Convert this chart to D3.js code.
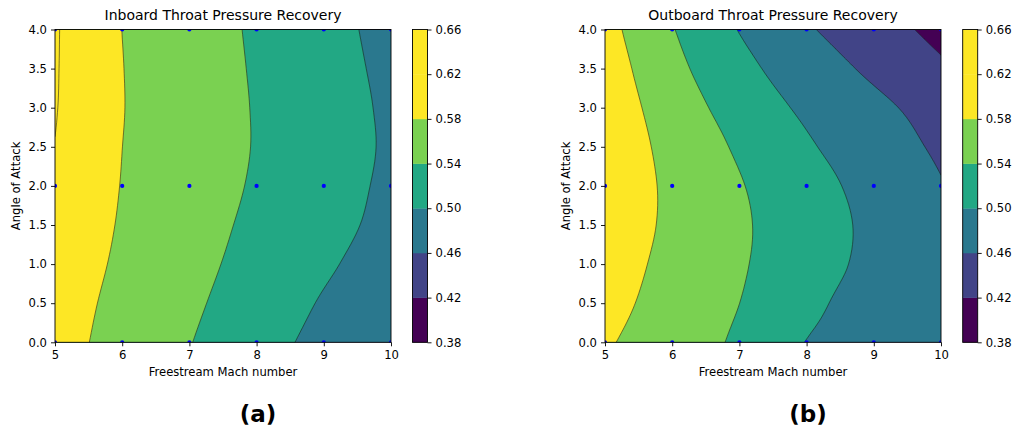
<!DOCTYPE html>
<html><head><meta charset="utf-8">
<script src="https://cdn.jsdelivr.net/npm/d3@7"></script>
<style>
body{margin:0;background:#fff}
svg{display:block}
text{font-family:"DejaVu Sans",sans-serif;fill:#000}
</style>
</head><body>
<svg id="c" width="1014" height="432"></svg>
<script>
// ---- data ----
const machValues = [5, 5.5, 6, 6.5, 7, 7.5, 8, 8.5, 9, 9.5, 10];
const aoaValues = [0, 0.5, 1, 1.5, 2, 2.5, 3, 3.5, 4];
// rows: angle of attack (0 -> 4), columns: Mach (5 -> 10)
const inboardRecovery = [
  [0.5950, 0.5803, 0.5673, 0.5543, 0.5413, 0.5282, 0.5150, 0.5018, 0.4895, 0.4772, 0.4650],
  [0.5980, 0.5835, 0.5707, 0.5585, 0.5463, 0.5340, 0.5216, 0.5092, 0.4968, 0.4844, 0.4720],
  [0.6020, 0.5875, 0.5744, 0.5627, 0.5510, 0.5393, 0.5280, 0.5167, 0.5054, 0.4938, 0.4820],
  [0.6070, 0.5915, 0.5771, 0.5658, 0.5546, 0.5434, 0.5326, 0.5220, 0.5114, 0.5009, 0.4890],
  [0.6130, 0.5956, 0.5789, 0.5682, 0.5575, 0.5468, 0.5362, 0.5255, 0.5149, 0.5042, 0.4930],
  [0.6190, 0.5995, 0.5801, 0.5695, 0.5591, 0.5486, 0.5381, 0.5274, 0.5168, 0.5062, 0.4950],
  [0.6217, 0.6014, 0.5812, 0.5699, 0.5593, 0.5486, 0.5378, 0.5270, 0.5161, 0.5052, 0.4940],
  [0.6225, 0.6017, 0.5808, 0.5695, 0.5586, 0.5476, 0.5366, 0.5254, 0.5142, 0.5029, 0.4920],
  [0.6230, 0.6013, 0.5798, 0.5687, 0.5576, 0.5464, 0.5351, 0.5236, 0.5120, 0.5005, 0.4890]
];
const outboardRecovery = [
  [0.5840, 0.5720, 0.5599, 0.5478, 0.5336, 0.5159, 0.4992, 0.4914, 0.4836, 0.4758, 0.4680],
  [0.5920, 0.5787, 0.5658, 0.5529, 0.5401, 0.5244, 0.5088, 0.4962, 0.4874, 0.4787, 0.4700],
  [0.5970, 0.5835, 0.5703, 0.5571, 0.5439, 0.5304, 0.5167, 0.5030, 0.4916, 0.4808, 0.4700],
  [0.6000, 0.5870, 0.5735, 0.5594, 0.5454, 0.5317, 0.5183, 0.5048, 0.4922, 0.4801, 0.4680],
  [0.6010, 0.5877, 0.5735, 0.5580, 0.5425, 0.5283, 0.5144, 0.5006, 0.4877, 0.4748, 0.4620],
  [0.6040, 0.5866, 0.5691, 0.5516, 0.5348, 0.5197, 0.5045, 0.4913, 0.4789, 0.4665, 0.4540],
  [0.6020, 0.5820, 0.5618, 0.5416, 0.5245, 0.5077, 0.4934, 0.4812, 0.4690, 0.4567, 0.4440],
  [0.5990, 0.5752, 0.5514, 0.5303, 0.5116, 0.4946, 0.4804, 0.4662, 0.4526, 0.4393, 0.4260],
  [0.5930, 0.5673, 0.5420, 0.5200, 0.4986, 0.4815, 0.4644, 0.4500, 0.4365, 0.4230, 0.4090]
];
const sampleMach = [5, 6, 7, 8, 9, 10];
const sampleAoA = [0, 2, 4];
const levels = [0.38, 0.42, 0.46, 0.50, 0.54, 0.58, 0.62, 0.66];
const bandColors = ["#440154", "#414487", "#2a788e", "#22a884", "#7ad151", "#fde725", "#fde725"];
const xTicks = [5, 6, 7, 8, 9, 10];
const yTicks = [0, 0.5, 1, 1.5, 2, 2.5, 3, 3.5, 4];
const titles = ["Inboard Throat Pressure Recovery", "Outboard Throat Pressure Recovery"];
const panelLabels = ["(a)", "(b)"];

// ---- layout ----
const panels = [
  {x0: 55, x1: 391, cb0: 412.5, cb1: 427.5, data: inboardRecovery},
  {x0: 605, x1: 941, cb0: 962.7, cb1: 977.7, data: outboardRecovery}
];
const plotTop = 29.5, plotBottom = 342.3;
const svg = d3.select("#c");

// smooth upsampling of the read grid for rendering (Catmull-Rom)
const UP = 8;
function cr(p0, p1, p2, p3, t) {
  const t2 = t * t, t3 = t2 * t;
  return 0.5 * ((2 * p1) + (-p0 + p2) * t + (2 * p0 - 5 * p1 + 4 * p2 - p3) * t2 + (-p0 + 3 * p1 - 3 * p2 + p3) * t3);
}
function upsample1(arr) {
  const n = arr.length, out = [];
  const g = i => i < 0 ? 2 * arr[0] - arr[1] : i >= n ? 2 * arr[n - 1] - arr[n - 2] : arr[i];
  for (let i = 0; i < n - 1; i++)
    for (let k = 0; k < UP; k++) out.push(cr(g(i - 1), g(i), g(i + 1), g(i + 2), k / UP));
  out.push(arr[n - 1]);
  return out;
}
function upsample(grid) {
  const rows = grid.map(upsample1);
  const nx = rows[0].length;
  const cols = [];
  for (let i = 0; i < nx; i++) cols.push(upsample1(rows.map(r => r[i])));
  const ny = cols[0].length;
  const vals = new Array(nx * ny);
  for (let j = 0; j < ny; j++) for (let i = 0; i < nx; i++) vals[j * nx + i] = cols[i][j];
  return {nx, ny, vals};
}

panels.forEach((p, pi) => {
  const xs = d3.scaleLinear().domain([machValues[0], machValues[machValues.length - 1]]).range([p.x0, p.x1]);
  const ys = d3.scaleLinear().domain([aoaValues[0], aoaValues[aoaValues.length - 1]]).range([plotBottom, plotTop]);
  const g = svg.append("g");
  const clipId = "clip" + pi;
  svg.append("clipPath").attr("id", clipId).append("rect")
    .attr("x", p.x0).attr("y", plotTop).attr("width", p.x1 - p.x0).attr("height", plotBottom - plotTop);

  const {nx, ny, vals} = upsample(p.data);
  const dm = (machValues[1] - machValues[0]) / UP;
  const da = (aoaValues[1] - aoaValues[0]) / UP;
  const proj = d3.geoTransform({
    point: function (x, y) {
      this.stream.point(xs(machValues[0] + (x - 0.5) * dm), ys(aoaValues[0] + (y - 0.5) * da));
    }
  });
  const path = d3.geoPath(proj);
  const conts = d3.contours().size([nx, ny]).thresholds(levels.slice(0, -1))(vals);
  const plot = g.append("g").attr("clip-path", `url(#${clipId})`);
  plot.selectAll("path.fill").data(conts).join("path")
    .attr("class", "fill")
    .attr("d", path)
    .attr("fill", (d, i) => bandColors[i])
    .attr("stroke", (d, i) => bandColors[i])
    .attr("stroke-width", 0.3);
  plot.selectAll("path.line").data(conts.slice(1)).join("path")
    .attr("class", "line")
    .attr("d", path)
    .attr("fill", "none")
    .attr("stroke", "#1a1a1a")
    .attr("stroke-opacity", 0.8)
    .attr("stroke-width", 0.7);

  // sample points
  const pts = [];
  sampleAoA.forEach(a => sampleMach.forEach(m => pts.push([m, a])));
  plot.selectAll("circle").data(pts).join("circle")
    .attr("cx", d => xs(d[0])).attr("cy", d => ys(d[1])).attr("r", 2.1).attr("fill", "#0000ff");

  // frame
  g.append("rect").attr("x", p.x0).attr("y", plotTop).attr("width", p.x1 - p.x0).attr("height", plotBottom - plotTop)
    .attr("fill", "none").attr("stroke", "#000").attr("stroke-width", 0.9);

  // axes
  const ax = g.append("g").attr("transform", `translate(0,${plotBottom})`)
    .call(d3.axisBottom(xs).tickValues(xTicks).tickFormat(d3.format("d")).tickSize(4).tickPadding(4));
  const ay = g.append("g").attr("transform", `translate(${p.x0},0)`)
    .call(d3.axisLeft(ys).tickValues(yTicks).tickFormat(d3.format(".1f")).tickSize(4).tickPadding(4));
  [ax, ay].forEach(a => {
    a.select(".domain").remove();
    a.selectAll("line").attr("stroke", "#000").attr("stroke-width", 0.9);
    a.selectAll("text").attr("font-size", 11.6).attr("fill", "#000").attr("font-family", "DejaVu Sans");
  });

  g.append("text").attr("x", (p.x0 + p.x1) / 2).attr("y", 20).attr("text-anchor", "middle")
    .attr("font-size", 14).text(titles[pi]);
  g.append("text").attr("x", (p.x0 + p.x1) / 2).attr("y", 376).attr("text-anchor", "middle")
    .attr("font-size", 11.6).text("Freestream Mach number");
  g.append("text").attr("transform", `translate(${p.x0 - 35.5},${(plotTop + plotBottom) / 2}) rotate(-90)`)
    .attr("text-anchor", "middle").attr("font-size", 11.6).text("Angle of Attack");
  g.append("text").attr("x", (p.x0 + p.x1) / 2 + 35).attr("y", 422).attr("text-anchor", "middle")
    .attr("font-size", 23).attr("font-weight", "bold").text(panelLabels[pi]);

  // colorbar
  const cs = d3.scaleLinear().domain([levels[0], levels[levels.length - 1]]).range([plotBottom, plotTop]);
  const cb = svg.append("g");
  cb.selectAll("rect.band").data(bandColors).join("rect").attr("class", "band")
    .attr("x", p.cb0).attr("width", p.cb1 - p.cb0)
    .attr("y", (d, i) => cs(levels[i + 1])).attr("height", (d, i) => cs(levels[i]) - cs(levels[i + 1]) + 0.3)
    .attr("fill", d => d);
  cb.append("rect").attr("x", p.cb0).attr("y", plotTop).attr("width", p.cb1 - p.cb0).attr("height", plotBottom - plotTop)
    .attr("fill", "none").attr("stroke", "#000").attr("stroke-width", 0.9);
  const ac = cb.append("g").attr("transform", `translate(${p.cb1},0)`)
    .call(d3.axisRight(cs).tickValues(levels).tickFormat(d3.format(".2f")).tickSize(4).tickPadding(4));
  ac.select(".domain").remove();
  ac.selectAll("line").attr("stroke", "#000").attr("stroke-width", 0.9);
  ac.selectAll("text").attr("font-size", 11.6).attr("fill", "#000").attr("font-family", "DejaVu Sans");
});
</script>
</body></html>
